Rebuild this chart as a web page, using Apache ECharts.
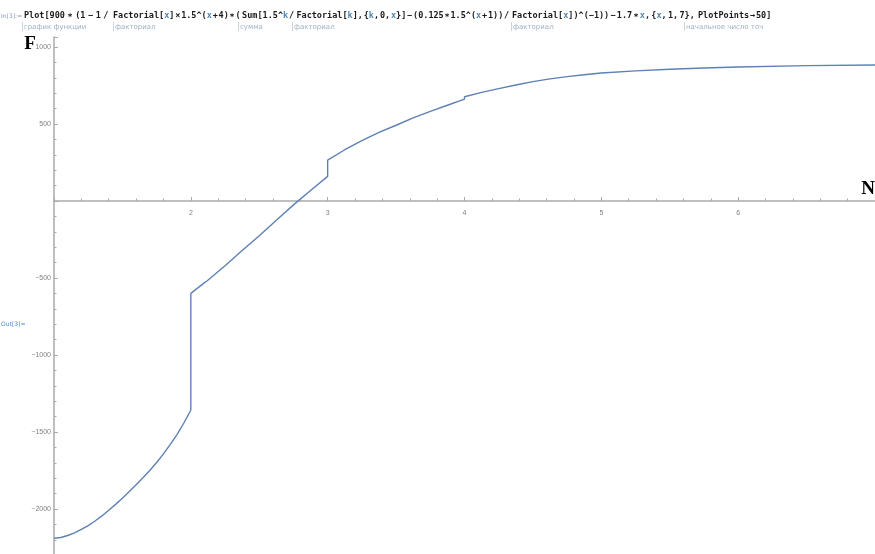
<!DOCTYPE html>
<html>
<head>
<meta charset="utf-8">
<script src="https://cdn.jsdelivr.net/npm/echarts@6/dist/echarts.min.js"></script>
<style>
html,body{margin:0;padding:0;background:#fff;}
#chart{width:875px;height:554px;}
</style>
</head>
<body>
<div id="chart"></div>
<script>
// ---- data ----
const xValues = [1.00, 1.05, 1.10, 1.15, 1.20, 1.25, 1.30, 1.35, 1.40, 1.45, 1.50,
                 1.55, 1.60, 1.65, 1.70, 1.75, 1.80, 1.85, 1.90, 1.95, 2.00,
                 2.00, 2.10, 2.12, 2.25, 2.375, 2.50, 2.625, 2.75, 2.875, 3.00,
                 3.00, 3.125, 3.25, 3.375, 3.50, 3.625, 3.75, 3.875, 4.00,
                 4.00, 4.125, 4.25, 4.375, 4.50, 4.625, 4.75, 4.875, 5.00,
                 5.25, 5.50, 5.75, 6.00, 6.50, 7.00];
const yValues = [-2190, -2185, -2172, -2155, -2133, -2108, -2078, -2045, -2008, -1970, -1930,
                 -1887, -1842, -1797, -1750, -1698, -1642, -1580, -1515, -1440, -1357,
                 -600, -530, -518, -420, -322, -225, -125, -25, 68, 160,
                 266, 333, 392, 445, 492, 540, 582, 622, 662,
                 677, 705, 730, 753, 775, 793, 808, 820, 831,
                 845, 856, 864, 870, 879, 883];
const xTickLabels = [2, 3, 4, 5, 6];
const yTickLabels = [1000, 500, -500, -1000, -1500, -2000];

const codeChunks = [
  [24,  "Plot[900 ∗ (1 − 1 / "],
  [113, "Factorial[`x`] × 1.5^(`x` + 4) ∗ ("],
  [238, "Sum[1.5^`k` / "],
  [293, "Factorial[`k`], {`k`, 0, `x`}] − (0.125 ∗ 1.5^(`x` + 1)) / "],
  [512, "Factorial[`x`])^(−1)) − 1.7 ∗ `x`, {`x`, 1, 7}, "],
  [698, "PlotPoints → 50]"]
];
const codeEnd = 770;
const notes = [
  [22, "график функции"],
  [113, "факториал"],
  [238, "сумма"],
  [292, "факториал"],
  [511, "факториал"],
  [684, "начальное число точ"]
];

const seriesData = xValues.map((x, i) => [x, yValues[i]]);

// measure text to lay out the code line
const mctx = document.createElement('canvas').getContext('2d');
const codeFont = 'bold 8.5px "DejaVu Sans Mono"';
mctx.font = codeFont;
const graphics = [];
let prevEnd = 0;
codeChunks.forEach(([anchor, s], ci) => {
  const x0 = Math.max(anchor, prevEnd + 1.5);
  const xEnd = ci < codeChunks.length - 1 ? codeChunks[ci + 1][0] : codeEnd;
  const tokens = [];
  s.split('`').forEach((p, i) => {
    const isVar = i % 2 === 1;
    const words = p.split(' ');
    words.forEach((w, j) => {
      if (j > 0) tokens.push({space: true});
      if (w) tokens.push({text: w, v: isVar});
    });
  });
  let wsum = 0, nsp = 0;
  tokens.forEach(t => { if (t.space) nsp++; else wsum += mctx.measureText(t.text).width; });
  let sp = nsp ? (xEnd - x0 - 2 - wsum) / nsp : 0;
  sp = Math.max(0.8, Math.min(sp, 4.8));
  let x = x0;
  tokens.forEach(t => {
    if (t.space) { x += sp; return; }
    graphics.push({type: 'text', x: x, y: 16, silent: true, style: {
      text: t.text, verticalAlign: 'middle', font: codeFont,
      fill: t.v ? '#4f86b8' : '#1a1a1a'
    }});
    x += mctx.measureText(t.text).width;
  });
  prevEnd = x;
});
graphics.push({type:'text', x: 1, y: 16, style:{text:'In[3]:=', fill:'#7f9bb8', font:'6px "DejaVu Sans"', verticalAlign:'middle'}});
notes.forEach(([x, s]) => {
  graphics.push({type:'line', shape:{x1:x+0.5, y1:22, x2:x+0.5, y2:31}, style:{stroke:'#c9d3dc', lineWidth:1}});
  graphics.push({type:'text', x: x+2, y: 27, style:{text:s, verticalAlign:'middle', fill:'#9fb0c0', font:'7px "DejaVu Sans"'}});
});
graphics.push({type:'text', x: 1, y: 324, style:{text:'Out[3]=', fill:'#4a88cc', font:'6px "DejaVu Sans"', verticalAlign:'middle'}});
graphics.push({type:'text', x: 30, y: 44, style:{text:'F', fill:'#000', font:'bold 19px "Liberation Serif"', align:'center', verticalAlign:'middle'}});
graphics.push({type:'text', x: 868, y: 189, style:{text:'N', fill:'#000', font:'bold 19px "Liberation Serif"', align:'center', verticalAlign:'middle'}});

const axisColor = '#aaaaaa';
const gridTop = 37, gridHeight = 549, yMin = -2500, yMax = 1065;
const zeroOffset = -(gridHeight * (0 - yMin) / (yMax - yMin));
const option = {
  backgroundColor: '#ffffff',
  animation: false,
  grid: {left: 54, right: 0, top: gridTop, height: gridHeight, containLabel: false, outerBoundsMode: 'none'},
  xAxis: {
    type: 'value', min: 1, max: 7, interval: 1, position: 'bottom', offset: zeroOffset,
    axisLine: {onZero: false, lineStyle: {color: axisColor, width: 1.5}},
    axisTick: {inside: true, length: 4, lineStyle: {color: axisColor}},
    minorTick: {show: true, splitNumber: 5, length: 2.5, lineStyle: {color: axisColor}},
    splitLine: {show: false},
    axisLabel: {
      color: '#808080', fontSize: 7, fontFamily: 'Liberation Sans', margin: 9,
      formatter: v => xTickLabels.indexOf(v) >= 0 ? String(v) : ''
    }
  },
  yAxis: {
    type: 'value', min: yMin, max: yMax, interval: 500,
    axisLine: {onZero: false, lineStyle: {color: axisColor, width: 1.5}},
    axisTick: {inside: true, length: 4, lineStyle: {color: axisColor}},
    minorTick: {show: true, splitNumber: 5, length: 2.5, lineStyle: {color: axisColor}},
    splitLine: {show: false},
    axisLabel: {
      color: '#808080', fontSize: 7, fontFamily: 'Liberation Sans', margin: 3, showMaxLabel: false,
      formatter: v => yTickLabels.indexOf(v) >= 0 ? String(v).replace('-', '\u2212') : ''
    }
  },
  series: [{
    type: 'line', data: seriesData, showSymbol: false, smooth: false,
    lineStyle: {color: '#5E81B5', width: 1.4}, clip: true
  }],
  graphic: graphics
};
const chart = echarts.init(document.getElementById('chart'), null, {renderer: 'canvas'});
chart.setOption(option);
</script>
</body>
</html>
